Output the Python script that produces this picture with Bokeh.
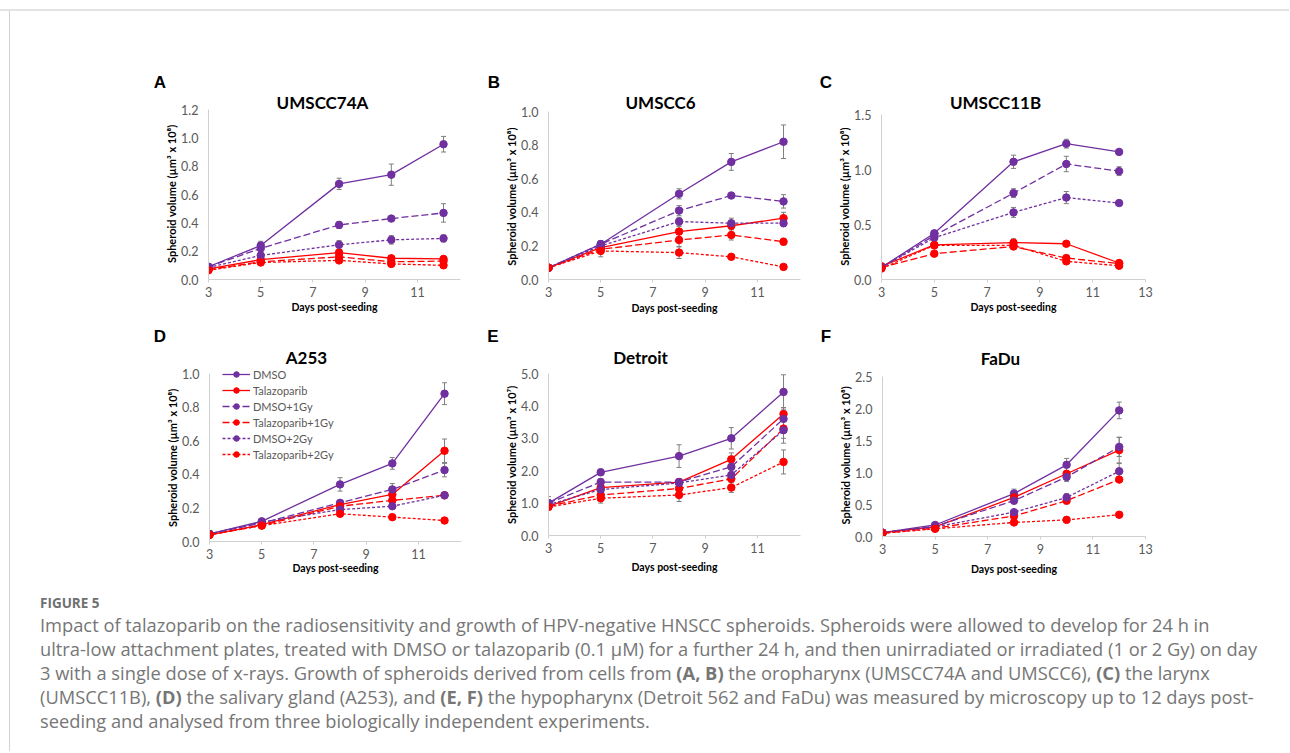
from bokeh.plotting import figure
from bokeh.layouts import column, row
from bokeh.models import (Div, Label, Legend, LegendItem, FixedTicker, Spacer,
                          NumeralTickFormatter, Whisker, ColumnDataSource, Range1d)
from bokeh.embed import file_html
from bokeh.resources import INLINE

# ---------------- data ----------------
days = [3, 5, 8, 10, 12]
series_names = ["DMSO", "Talazoparib", "DMSO+1Gy", "Talazoparib+1Gy", "DMSO+2Gy", "Talazoparib+2Gy"]

# Panel A: UMSCC74A (x10^8)
a_mean = [[0.09, 0.24, 0.675, 0.74, 0.955],
          [0.075, 0.14, 0.19, 0.15, 0.145],
          [0.09, 0.22, 0.385, 0.43, 0.47],
          [0.07, 0.125, 0.16, 0.125, 0.13],
          [0.085, 0.17, 0.245, 0.28, 0.29],
          [0.065, 0.12, 0.135, 0.11, 0.10]]
a_err = [[0.01, 0.03, 0.04, 0.075, 0.055],
         [0.01, 0.015, 0.02, 0.015, 0.02],
         [0.01, 0.02, 0.025, 0.01, 0.065],
         [0.01, 0.01, 0.015, 0.01, 0.01],
         [0.01, 0.015, 0.03, 0.03, 0.025],
         [0.01, 0.01, 0.01, 0.01, 0.01]]

# Panel B: UMSCC6 (x10^8)
b_mean = [[0.07, 0.21, 0.51, 0.70, 0.82],
          [0.07, 0.19, 0.285, 0.32, 0.365],
          [0.07, 0.21, 0.41, 0.50, 0.465],
          [0.07, 0.18, 0.235, 0.265, 0.225],
          [0.07, 0.20, 0.345, 0.335, 0.335],
          [0.07, 0.17, 0.16, 0.135, 0.075]]
b_err = [[0.005, 0.02, 0.03, 0.05, 0.10],
         [0.005, 0.02, 0.03, 0.02, 0.035],
         [0.005, 0.02, 0.03, 0.005, 0.04],
         [0.005, 0.02, 0.04, 0.03, 0.02],
         [0.005, 0.02, 0.025, 0.03, 0.02],
         [0.005, 0.035, 0.035, 0.01, 0.01]]

# Panel C: UMSCC11B (x10^8)
c_mean = [[0.11, 0.42, 1.07, 1.235, 1.16],
          [0.12, 0.315, 0.335, 0.325, 0.15],
          [0.11, 0.40, 0.785, 1.05, 0.985],
          [0.11, 0.235, 0.30, 0.195, 0.145],
          [0.11, 0.38, 0.61, 0.745, 0.695],
          [0.10, 0.31, 0.31, 0.165, 0.125]]
c_err = [[0.01, 0.02, 0.06, 0.04, 0.02],
         [0.01, 0.02, 0.035, 0.01, 0.01],
         [0.01, 0.02, 0.04, 0.07, 0.04],
         [0.01, 0.02, 0.02, 0.02, 0.01],
         [0.01, 0.02, 0.045, 0.055, 0.02],
         [0.01, 0.02, 0.02, 0.02, 0.01]]

# Panel D: A253 (x10^8)
d_mean = [[0.045, 0.12, 0.34, 0.465, 0.88],
          [0.04, 0.10, 0.22, 0.28, 0.54],
          [0.045, 0.11, 0.23, 0.31, 0.425],
          [0.04, 0.095, 0.21, 0.245, 0.275],
          [0.045, 0.115, 0.19, 0.21, 0.275],
          [0.04, 0.095, 0.165, 0.145, 0.125]]
d_err = [[0.005, 0.015, 0.04, 0.035, 0.065],
         [0.005, 0.01, 0.02, 0.02, 0.07],
         [0.005, 0.01, 0.015, 0.035, 0.04],
         [0.005, 0.01, 0.015, 0.015, 0.01],
         [0.005, 0.01, 0.015, 0.01, 0.015],
         [0.005, 0.01, 0.015, 0.01, 0.01]]

# Panel E: Detroit (x10^7)
e_mean = [[1.0, 1.95, 2.45, 3.0, 4.43],
          [0.9, 1.48, 1.65, 2.35, 3.75],
          [1.0, 1.65, 1.65, 2.12, 3.6],
          [0.9, 1.25, 1.45, 1.75, 3.3],
          [0.95, 1.42, 1.62, 1.87, 3.25],
          [0.88, 1.15, 1.25, 1.48, 2.27]]
e_err = [[0.2, 0.1, 0.35, 0.33, 0.53],
         [0.05, 0.1, 0.1, 0.2, 0.2],
         [0.05, 0.1, 0.1, 0.2, 0.35],
         [0.05, 0.1, 0.1, 0.1, 0.3],
         [0.05, 0.1, 0.1, 0.15, 0.4],
         [0.05, 0.15, 0.2, 0.15, 0.37]]

# Panel F: FaDu (x10^8)
f_mean = [[0.06, 0.18, 0.67, 1.12, 1.97],
          [0.06, 0.15, 0.61, 0.98, 1.35],
          [0.06, 0.16, 0.56, 0.93, 1.40],
          [0.05, 0.13, 0.32, 0.56, 0.89],
          [0.06, 0.15, 0.38, 0.61, 1.02],
          [0.05, 0.12, 0.22, 0.26, 0.34]]
f_err = [[0.01, 0.02, 0.07, 0.1, 0.13],
         [0.01, 0.02, 0.05, 0.05, 0.2],
         [0.01, 0.02, 0.05, 0.07, 0.15],
         [0.01, 0.02, 0.04, 0.05, 0.04],
         [0.01, 0.02, 0.03, 0.06, 0.12],
         [0.01, 0.02, 0.04, 0.02, 0.04]]

x_ticks_short = [3, 5, 7, 9, 11]
x_ticks_long = [3, 5, 7, 9, 11, 13]

# ---------------- styles ----------------
PURPLE = "#7030A0"
RED = "#FF0000"
colors = [PURPLE, RED, PURPLE, RED, PURPLE, RED]
dashes = ["solid", "solid", "7 3", "7 3", "3 2", "3 2"]
CHART_FONT = "Lato"
TICK_COLOR = "#595959"
AXIS_COLOR = "#d0d0d0"
OX = 10   # page x of the content block
EN = "\u2002"


def make_panel(title, means, errs, ymax, ystep, xend, xticks, ylabel,
               fig_box, frame_box, true_top, title_pos, xlabel_standoff,
               ylabel_pad, legend=False):
    fx0, fy0, fx1, fy1 = fig_box          # page coords of figure
    l, t, r, b = frame_box                # page coords of plot frame
    ymax_ext = ymax * (b - t) / (b - true_top)
    p = figure(width=fx1 - fx0, height=fy1 - fy0, title=None,
               x_range=Range1d(3, xend), y_range=Range1d(0, ymax_ext),
               min_border_left=l - fx0, min_border_right=fx1 - r,
               min_border_top=t - fy0, min_border_bottom=fy1 - b,
               output_backend="svg", toolbar_location=None,
               outline_line_color=None, background_fill_color="white",
               border_fill_color="white")
    p.grid.visible = False

    p.xaxis.ticker = FixedTicker(ticks=xticks)
    nt = int(round(ymax / ystep))
    p.yaxis.ticker = FixedTicker(ticks=[round(i * ystep, 3) for i in range(nt + 1)])
    p.yaxis.formatter = NumeralTickFormatter(format="0.0")
    p.yaxis.bounds = (0, ymax)
    for ax in (p.xaxis[0], p.yaxis[0]):
        ax.axis_line_color = AXIS_COLOR
        ax.major_label_text_font = CHART_FONT
        ax.major_label_text_font_size = "12.5px"
        ax.major_label_text_color = TICK_COLOR
        ax.axis_label_text_font = CHART_FONT
        ax.axis_label_text_font_style = "bold"
        ax.axis_label_text_color = "#000000"
        ax.minor_tick_line_color = None
    p.xaxis.axis_label_text_font_size = "10.5px"
    p.yaxis.axis_label_text_font_size = "11px"
    p.xaxis.major_tick_line_color = AXIS_COLOR
    p.xaxis.major_tick_out = 3
    p.xaxis.major_tick_in = 0
    p.xaxis.major_label_standoff = 4
    p.yaxis.major_tick_line_color = None
    p.yaxis.major_label_standoff = 4
    p.xaxis.axis_label = "Days post-seeding"
    p.xaxis.axis_label_standoff = xlabel_standoff
    # trailing en-spaces keep the label centred on the 0..ymax part of the axis
    p.yaxis.axis_label = ylabel + EN * ylabel_pad
    p.yaxis.axis_label_standoff = 0

    items = []
    for i, name in enumerate(series_names):
        lo = [m - e for m, e in zip(means[i], errs[i])]
        hi = [m + e for m, e in zip(means[i], errs[i])]
        src = ColumnDataSource(dict(x=days, y=means[i], lo=lo, hi=hi))
        w = Whisker(source=src, base="x", upper="hi", lower="lo",
                    line_color="#7f7f7f", line_width=1, level="underlay")
        w.upper_head.size = 5
        w.lower_head.size = 5
        w.upper_head.line_color = "#7f7f7f"
        w.lower_head.line_color = "#7f7f7f"
        p.add_layout(w)
    for i, name in enumerate(series_names):
        src = ColumnDataSource(dict(x=days, y=means[i]))
        ln = p.line("x", "y", source=src, line_color=colors[i], line_width=1.3,
                    line_dash=dashes[i])
        sc = p.scatter("x", "y", source=src, marker="circle", size=7.5,
                       fill_color=colors[i], line_color=colors[i])
        items.append(LegendItem(label=name, renderers=[ln, sc]))

    if legend:
        lg = Legend(items=items, location=(13, 80), orientation="vertical",
                    glyph_width=28, glyph_height=14, label_height=14,
                    label_standoff=3, spacing=2, padding=0, margin=0,
                    border_line_color=None, background_fill_alpha=0,
                    label_text_font=CHART_FONT, label_text_font_size="11px",
                    label_text_color=TICK_COLOR)
        p.add_layout(lg, "center")

    px, py = title_pos
    p.add_layout(Label(x=px - l, y=b - py, x_units="screen", y_units="screen",
                       text=title, text_align="center", text_baseline="middle",
                       text_font=CHART_FONT, text_font_size="17px",
                       text_font_style="bold", text_color="#000000"))
    return p


yl8 = "Spheroid volume (µm³ x 10⁸)"
yl7 = "Spheroid volume (µm³ x 10⁷)"

pA = make_panel("UMSCC74A", a_mean, a_err, 1.2, 0.2, 12.65, x_ticks_short, yl8,
                (10, 91, 475, 320), (208, 91, 460, 279), 109, (322, 102), 1, 3)
pB = make_panel("UMSCC6", b_mean, b_err, 1.0, 0.2, 12.65, x_ticks_short, yl8,
                (475, 91, 810, 320), (548, 91, 800, 279), 111, (660, 102), 2, 4)
pC = make_panel("UMSCC11B", c_mean, c_err, 1.5, 0.5, 13.0, x_ticks_long, yl8,
                (810, 91, 1160, 320), (881, 91, 1145, 279), 114, (995, 102), 1, 4)
# row 2: same bottom border (41 px) for all three; short figures get a spacer below
pD = make_panel("A253", d_mean, d_err, 1.0, 0.2, 12.65, x_ticks_short, yl8,
                (10, 346, 475, 582), (209, 346, 461, 541), 373, (306, 357), 0, 5,
                legend=True)
pE = make_panel("Detroit", e_mean, e_err, 5.0, 1.0, 12.65, x_ticks_short, yl7,
                (475, 346, 810, 576), (548, 346, 800, 535), 373, (640, 357), 5, 5)
pF = make_panel("FaDu", f_mean, f_err, 2.5, 0.5, 13.0, x_ticks_long, yl8,
                (810, 346, 1160, 577), (882, 346, 1145, 536), 376, (1000, 358), 6, 5)


def letter_header(letters, y0, y1):
    spans = "".join(
        '<span style="position:absolute;left:%dpx;top:%dpx;transform:translate(-50%%,-50%%);'
        'font-family:\'Liberation Sans\';font-weight:bold;font-size:17px;line-height:16px;color:#000;">%s</span>'
        % (x - OX, y - y0, txt) for txt, x, y in letters)
    html = ('<div style="position:relative;width:1270px;height:%dpx;">' % (y1 - y0)) + spans + '</div>'
    return Div(text=html, width=1270, height=y1 - y0, margin=0)


head1 = letter_header([("A", 160, 83), ("B", 494, 83), ("C", 826, 83)], 11, 91)
head2 = letter_header([("D", 160, 337), ("E", 493, 337), ("F", 826, 337)], 320, 346)

caption_lines = [
    "Impact of talazoparib on the radiosensitivity and growth of HPV-negative HNSCC spheroids. Spheroids were allowed to develop for 24 h in",
    "ultra-low attachment plates, treated with DMSO or talazoparib (0.1 µM) for a further 24 h, and then unirradiated or irradiated (1 or 2 Gy) on day",
    "3 with a single dose of x-rays. Growth of spheroids derived from cells from <b>(A, B)</b> the oropharynx (UMSCC74A and UMSCC6), <b>(C)</b> the larynx",
    "(UMSCC11B), <b>(D)</b> the salivary gland (A253), and <b>(E, F)</b> the hypopharynx (Detroit 562 and FaDu) was measured by microscopy up to 12 days post-",
    "seeding and analysed from three biologically independent experiments.",
]
caption_html = (
    '<div style="font-family:\'Open Sans\';color:#767676;white-space:nowrap;padding-left:30px;">'
    '<div style="font-size:13.5px;font-weight:bold;line-height:16px;margin-top:13px;color:#707070;">FIGURE 5</div>'
    '<div style="font-size:18.3px;line-height:24px;margin-top:2px;">' + "<br>".join(caption_lines) + '</div></div>'
)
caption = Div(text=caption_html, width=1270, height=169, margin=0)

row2 = row(column(pD, spacing=0),
           column(pE, Spacer(width=335, height=6), spacing=0),
           column(pF, Spacer(width=350, height=5), spacing=0),
           spacing=0)
content = column(head1, row(pA, pB, pC, spacing=0), head2, row2, caption, spacing=0)

top_line = Div(text="", width=1289, height=2, margin=0, styles={"background-color": "#e3e3e3"})
left_line = Div(text="", width=1, height=740, margin=0, styles={"background-color": "#d2d2d2"})
page = column(Spacer(width=1, height=9),
              top_line,
              row(Spacer(width=9, height=1), left_line, content, spacing=0),
              spacing=0)

open("out.html", "w").write(file_html(page, INLINE))
